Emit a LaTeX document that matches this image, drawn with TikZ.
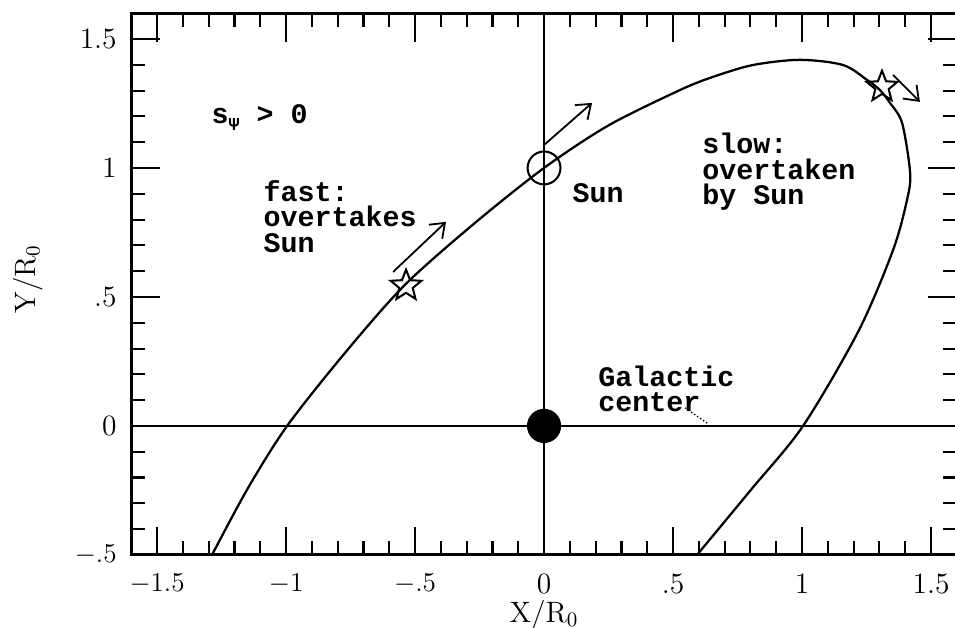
\documentclass[tikz,border=0pt]{standalone}
\usepackage{fontspec}
\setmonofont{Liberation Mono}
\usetikzlibrary{shapes.geometric,arrows.meta}

\begin{document}
\begin{tikzpicture}[
  x=4cm, y=4cm,
  frame/.style={line width=1.3pt},
  axis/.style={line width=0.9pt},
  orbit/.style={line width=1pt, line join=round},
  tick/.style={line width=0.9pt},
  ticklabel/.style={font=\fontsize{13}{15}\selectfont, inner sep=0pt},
  note/.style={font=\ttfamily\bfseries\fontsize{12.5}{11.2}\selectfont, align=left, inner sep=0pt, anchor=north west},
  starmark/.style={draw, star, star points=5, star point ratio=2.3, minimum size=0.5cm, inner sep=0pt, line width=0.9pt},
  sunmark/.style={draw, circle, minimum size=0.51cm, inner sep=0pt, line width=0.9pt},
  gcmark/.style={fill, circle, minimum size=0.53cm, inner sep=0pt},
  motion/.style={-{Straight Barb[length=2mm, width=3mm]}, line width=0.8pt}
]
\useasboundingbox (-2.109,-0.783) rectangle (1.593,1.651);

\draw[frame] (-1.6,-0.5) rectangle (1.6,1.6);
\foreach \x in {-1.5,-1.4,...,1.55} {
  \draw[tick] (\x,-0.5) -- ++(0,0.055);
  \draw[tick] (\x,1.6) -- ++(0,-0.055);
}
\foreach \y in {-0.4,-0.3,...,1.55} {
  \draw[tick] (-1.6,\y) -- ++(0.055,0);
  \draw[tick] (1.6,\y) -- ++(-0.055,0);
}
\foreach \x/\lab [count=\k] in {-1.5/$-1.5$, -1/$-1$, -0.5/$-.5$, 0/0, 0.5/.5, 1/1, 1.5/1.5} {
  \draw[tick] (\x,-0.5) -- ++(0,0.11);
  \draw[tick] (\x,1.6) -- ++(0,-0.11);
  \node[ticklabel] (xtick\k) at (\x,-0.612) {\lab};
}
\foreach \y/\lab [count=\k] in {-0.5/$-.5$, 0/0, 0.5/.5, 1/1, 1.5/1.5} {
  \draw[tick] (-1.6,\y) -- ++(0.11,0);
  \draw[tick] (1.6,\y) -- ++(-0.11,0);
  \node[ticklabel, anchor=east] (ytick\k) at (-1.655,\y) {\lab};
}
\node[ticklabel] (xlabel) at (0,-0.735) {X/R$_0$};
\node[ticklabel, rotate=90] (ylabel) at (-2.0,0.57) {Y/R$_0$};

\draw[axis] (-1.6,0) -- (1.6,0);
\draw[axis] (0,-0.5) -- (0,1.6);

\draw[orbit] plot[smooth, tension=0.5] coordinates {
  (0.593,-0.5) (0.8,-0.25) (1.004,0) (1.22,0.37) (1.353,0.682) (1.407,0.876)
  (1.419,0.981) (1.388,1.174) (1.341,1.252) (1.302,1.302) (1.252,1.341)
  (1.159,1.399) (0.992,1.419) (0.810,1.399) (0.655,1.353) (0.527,1.302)
  (0.25,1.165) (0,1) (-0.27,0.785) (-0.539,0.547) (-0.77,0.285)
  (-0.996,0) (-1.15,-0.245) (-1.287,-0.5)};

\node[sunmark] (sun) at (0,1) {};
\node[gcmark] (gc) at (0,0) {};
\node[starmark] (fastStar) at (-0.535,0.543) {};
\node[starmark] (slowStar) at (1.310,1.314) {};

\coordinate (fastTail) at (-0.585,0.597);
\coordinate (fastHead) at (-0.380,0.791);
\coordinate (sunTail) at (0,1.089);
\coordinate (sunHead) at (0.186,1.252);
\coordinate (slowTail) at (1.353,1.360);
\coordinate (slowHead) at (1.457,1.256);
\draw[motion] (fastTail) -- (fastHead);
\draw[motion] (sunTail) -- (sunHead);
\draw[motion] (slowTail) -- (slowHead);

\node[note, anchor=base west] (sign) at (-1.29,1.174) {s\raisebox{-0.5ex}{\fontsize{8}{8}\selectfont Ψ} > 0};
\node[note] (fastText) at (-1.089,0.953) {fast:\\overtakes\\Sun};
\node[note, anchor=west] (sunText) at (0.109,0.903) {Sun};
\node[note] (slowText) at (0.612,1.136) {slow:\\overtaken\\by Sun};
\node[note] (gcText) at (0.209,0.236) {Galactic\\center};

\coordinate (gcLeadA) at (0.547,0.070);
\coordinate (gcLeadB) at (0.636,0.008);
\draw[densely dotted, line width=0.6pt] (gcLeadA) -- (gcLeadB);
\end{tikzpicture}
\end{document}
